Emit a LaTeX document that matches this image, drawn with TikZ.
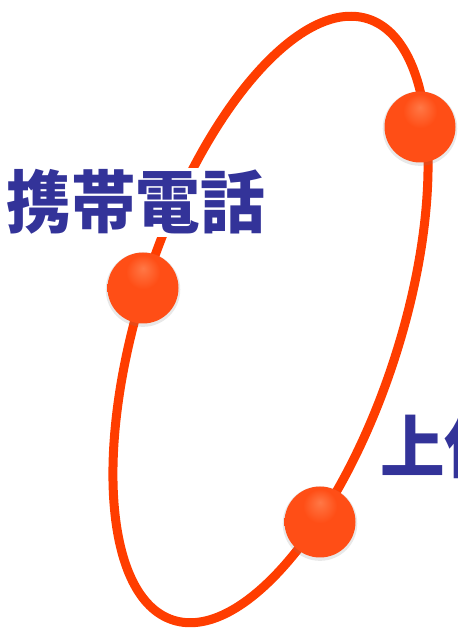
\documentclass[tikz,border=0pt]{standalone}
\usepackage{fontspec}
\usepackage{tikz}
\usetikzlibrary{shadows}
\newfontfamily\jpfont{Noto Sans CJK JP}[UprightFont=* Black]
\definecolor{ringred}{RGB}{255,61,0}
\definecolor{labelblue}{RGB}{51,51,153}
\definecolor{orbhi}{RGB}{255,120,70}
\definecolor{orbmid}{RGB}{255,78,22}
\definecolor{orbdark}{RGB}{230,50,6}
\pgfdeclareradialshading{orb}{\pgfpoint{0bp}{14bp}}{color(0bp)=(orbhi); color(12bp)=(orbmid); color(36bp)=(orbmid); color(48bp)=(orbdark); color(60bp)=(orbdark)}
\tikzstyle{ball} = [circle, minimum size=71pt, inner sep=0pt, shading=orb,
    drop shadow={shadow xshift=0pt, shadow yshift=-1.5pt, shadow scale=1.05, opacity=.18}]
\tikzstyle{label} = [inner sep=2pt, text=labelblue, xscale=.95, transform shape,
    font=\jpfont\fontsize{68}{68}\selectfont]

\begin{document}
\begin{tikzpicture}[x=1pt,y=1pt]
    \useasboundingbox (0,0) rectangle (458,635);
    \coordinate (c) at (270.5,315.5);
    \draw[ringred, line width=9pt, rotate around={72:(c)}] (c) ellipse [x radius=316, y radius=130];
    \node[label, fill=white, anchor=base] (keitai) at (136,407) {携帯電話};
    \node[label, anchor=base west] (joui) at (378,162) {上位};
    \node[ball] (b1) at (143,347) {};
    \node[ball] (b2) at (420,508) {};
    \node[ball] (b3) at (320,113) {};
\end{tikzpicture}
\end{document}
